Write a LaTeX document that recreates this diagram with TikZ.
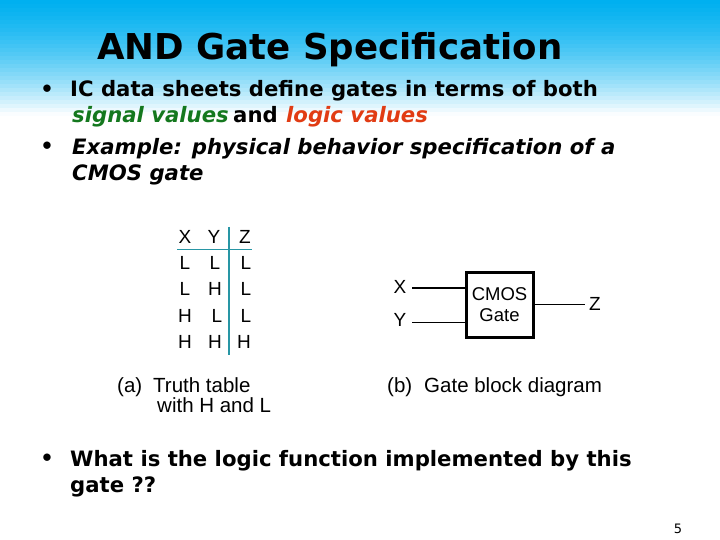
\documentclass[tikz,border=0pt]{standalone}
\usepackage{fontspec}
\setmainfont{DejaVu Sans}
\newfontfamily\figfont{Liberation Sans}
\definecolor{skytop}{RGB}{0,176,240}
\definecolor{signalgreen}{RGB}{20,120,30}
\definecolor{logicred}{RGB}{225,60,20}
\definecolor{tableteal}{RGB}{40,150,165}
\tikzset{
	bodytext/.style={anchor=base west, inner sep=0pt, font=\fontsize{21.2}{22}\selectfont\bfseries},
	bullettext/.style={anchor=center, inner sep=0pt, font=\fontsize{21}{21}\selectfont\bfseries},
	figtext/.style={anchor=center, inner sep=0pt, font=\fontsize{19}{19}\selectfont\figfont},
	captiontext/.style={anchor=base west, inner sep=0pt, font=\fontsize{20.5}{21}\selectfont\figfont}
}

\begin{document}
\begin{tikzpicture}[x=1pt, y=-1pt]
\useasboundingbox (0,0) rectangle (720,540);

% background bands
\foreach \i in {0,...,31} {
	\pgfmathsetmacro{\pct}{max(0,100-\i*1.6-\i*\i*0.068)}
	\fill[skytop!\pct!white] (0,{\i*4}) rectangle (720,{(\i+1)*4+0.5});
}

\node[anchor=base west, inner sep=0pt, font=\fontsize{35.6}{36}\selectfont\bfseries] (title) at (97,60) {AND Gate Specification};

\node[bullettext] (dota) at (47,91) {•};
\node[bodytext] (linea) at (70,97) {IC data sheets define gates in terms of both};
\node[bodytext, signalgreen] (lineb) at (72,123) {\itshape signal values};
\node[bodytext] (linec) at (233,123) {and};
\node[bodytext, logicred] (lined) at (286,123) {\itshape logic values};
\node[bullettext] (dotb) at (47,148) {•};
\node[bodytext] (linee) at (72,155) {\itshape Example: physical behavior specification of a};
\node[bodytext] (linef) at (72,181) {\itshape CMOS gate};

% truth table
\coordinate (ruletop) at (229,227);
\coordinate (rulebottom) at (229,355);
\coordinate (ruleleft) at (177,249);
\coordinate (ruleright) at (252,249);
\draw[tableteal, line width=1.2pt] (ruletop) -- (rulebottom);
\draw[tableteal, line width=0.8pt] (ruleleft) -- (ruleright);

\node[figtext] (headx) at (185,237) {X};
\node[figtext] (heady) at (214,237) {Y};
\node[figtext] (headz) at (245,237) {Z};
\node[figtext] (xa) at (185,263) {L};
\node[figtext] (ya) at (215,263) {L};
\node[figtext] (za) at (246,263) {L};
\node[figtext] (xb) at (185,289) {L};
\node[figtext] (yb) at (215,289) {H};
\node[figtext] (zb) at (246,289) {L};
\node[figtext] (xc) at (185,316) {H};
\node[figtext] (yc) at (217,316) {L};
\node[figtext] (zc) at (246,316) {L};
\node[figtext] (xd) at (185,342) {H};
\node[figtext] (yd) at (215,342) {H};
\node[figtext] (zd) at (244,342) {H};

\node[captiontext] (capa) at (117,392) {(a)};
\node[captiontext] (capb) at (153,392) {Truth table};
\node[captiontext] (capc) at (157,412) {with H and L};

% block diagram
\node[draw, line width=3pt, minimum width=67pt, minimum height=65pt, inner sep=0pt, align=center, font=\fontsize{18.5}{21}\selectfont\figfont] (gate) at (499.5,304.5) {CMOS\\Gate};
\node[figtext] (inx) at (400,287) {X};
\node[figtext] (iny) at (400,320) {Y};
\node[figtext] (outz) at (595,304) {Z};
\coordinate (gatex) at (gate.west |- 0,288);
\coordinate (gatey) at (gate.west |- 0,322);
\coordinate (startx) at (412,288);
\coordinate (starty) at (412,322);
\coordinate (endz) at (585,304.5);
\draw[line width=1.4pt] (startx) -- (gatex);
\draw[line width=0.6pt] (starty) -- (gatey);
\draw[line width=0.6pt] (gate.east) -- (endz);

\node[captiontext] (capd) at (387,392) {(b)};
\node[captiontext] (cape) at (424,392) {Gate block diagram};

\node[bullettext] (dotc) at (47,460) {•};
\node[bodytext] (lineg) at (70,466) {What is the logic function implemented by this};
\node[bodytext] (lineh) at (70,492) {gate ??};

\node[anchor=center, inner sep=0pt, font=\fontsize{13}{13}\selectfont] (pagenum) at (678,529) {5};

\end{tikzpicture}
\end{document}
